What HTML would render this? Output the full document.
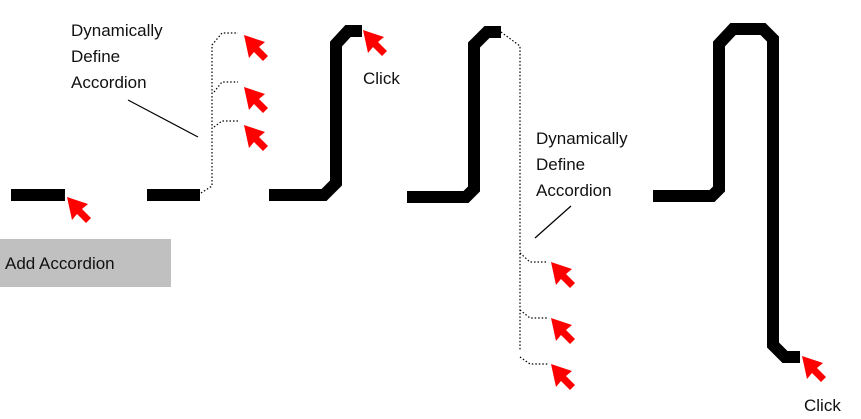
<!DOCTYPE html>
<html><head><style>
body{margin:0;background:#fff;width:861px;height:412px;overflow:hidden;position:relative;font-family:"Liberation Sans",Arial,sans-serif;}
.t{position:absolute;font-size:17px;line-height:26px;color:#111;}
</style></head><body>
<div style="position:absolute;left:0;top:239px;width:171px;height:48px;background:#c0c0c0;"></div>
<div class="t" style="left:5px;top:251px;">Add Accordion</div>
<div class="t" style="left:71px;top:18px;">Dynamically<br>Define<br>Accordion</div>
<div class="t" style="left:363px;top:66px;">Click</div>
<div class="t" style="left:536px;top:126px;">Dynamically<br>Define<br>Accordion</div>
<div class="t" style="left:804px;top:393px;">Click</div>
<svg width="861" height="412" style="position:absolute;left:0;top:0">
<defs>
<polygon id="a" points="0,0 21,7 15,12 24,21 19,26 10,17 5,23" fill="#f00"/>
</defs>
<g fill="none" stroke="#000" stroke-width="12" stroke-linejoin="miter">
<path d="M11,195 H65"/>
<path d="M147,195 H200"/>
<path d="M269,195 H324 L336,183 V44 L348,31 H362"/>
<path d="M407,197 H466 L474,189 V45 L487,32 H501"/>
<path d="M653,196 H712 L719,189 V44 L733,29 H763 L773,39 V345 L785,357 H800"/>
</g>
<g fill="none" stroke="#000" stroke-width="1.2" stroke-dasharray="1.5,2">
<path d="M201,193 L212,186 V45 L222,33 H238"/>
<path d="M214,92 L222,82 H238"/>
<path d="M214,127 L222,121 H238"/>
<path d="M501,32 L520,46 V350"/>
<path d="M520,253 L530,262 H548"/>
<path d="M520,310 L530,318 H548"/>
<path d="M520,357 L530,364 H548"/>
</g>
<g stroke="#000" stroke-width="1.2">
<line x1="128" y1="100" x2="198" y2="137"/>
<line x1="571" y1="206" x2="535" y2="238"/>
</g>
<use href="#a" x="67" y="197"/>
<use href="#a" x="244" y="35"/>
<use href="#a" x="244" y="87"/>
<use href="#a" x="244" y="125"/>
<use href="#a" x="363" y="30"/>
<use href="#a" x="551" y="262"/>
<use href="#a" x="551" y="318"/>
<use href="#a" x="551" y="364"/>
<use href="#a" x="802" y="356"/>
</svg>
</body></html>
